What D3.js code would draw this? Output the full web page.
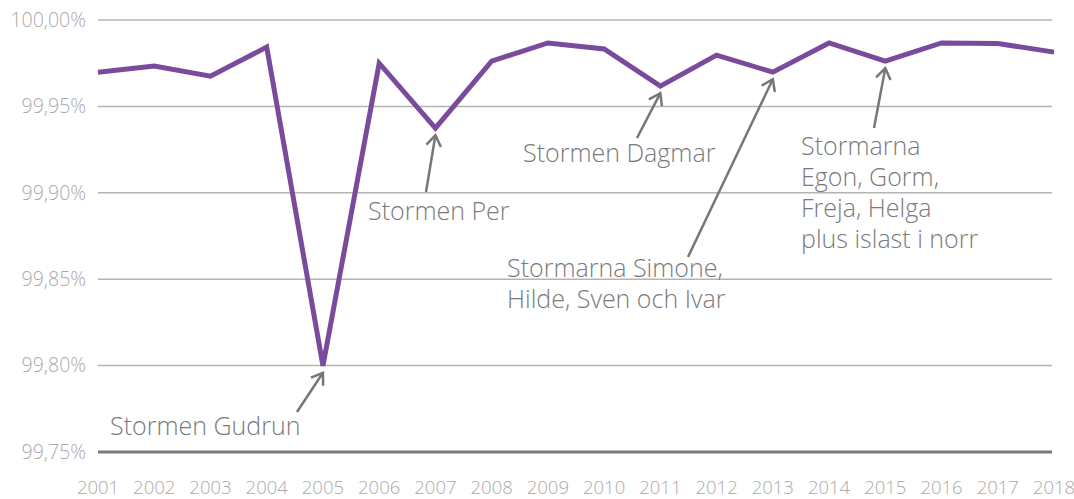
<!DOCTYPE html>
<html lang="sv">
<head>
<meta charset="UTF-8">
<title>Leveranssäkerhet</title>
<script src="https://d3js.org/d3.v7.min.js"></script>
<style>
  body { margin: 0; background: #fff; }
  svg { display: block; font-family: "Open Sans", sans-serif; font-weight: 300; }
  .grid line { stroke: #b4b4b4; stroke-width: 1.5px; }
  .tick-label { fill: #aaa; font-size: 19.5px; }
  .year-label { fill: #aaa; font-size: 18.5px; }
  .note { fill: #7a7a7a; font-size: 25px; }
  .arrow { stroke: #777; stroke-width: 2.5px; fill: none; }
</style>
</head>
<body>
<script>
  // data
  const years = [2001, 2002, 2003, 2004, 2005, 2006, 2007, 2008, 2009,
                 2010, 2011, 2012, 2013, 2014, 2015, 2016, 2017, 2018];
  const availability = [99.9698, 99.9733, 99.9675, 99.9843, 99.7999, 99.9750,
                        99.9374, 99.9762, 99.9867, 99.9832, 99.9617, 99.9797,
                        99.9698, 99.9867, 99.9762, 99.9867, 99.9864, 99.9814];
  const yTicks = [99.75, 99.80, 99.85, 99.90, 99.95, 100.00];

  const noteYears = [2005, 2007, 2011, 2013, 2015];
  const noteTexts = [
    ["Stormen Gudrun"],
    ["Stormen Per"],
    ["Stormen Dagmar"],
    ["Stormarna Simone,", "Hilde, Sven och Ivar"],
    ["Stormarna", "Egon, Gorm,", "Freja, Helga", "plus islast i norr"]
  ];

  const width = 1074, height = 499;
  const margin = { left: 98, right: 20, top: 20, bottom: 47 };

  const svg = d3.select("body").append("svg")
    .attr("width", width)
    .attr("height", height);

  const x = d3.scalePoint()
    .domain(years)
    .range([margin.left, width - margin.right]);

  const y = d3.scaleLinear()
    .domain([99.75, 100])
    .range([height - margin.bottom, margin.top]);

  const sv = d3.formatLocale({ decimal: ",", thousands: " ", grouping: [3], currency: ["", " kr"] });
  const fmt = sv.format(".2f");

  // grid
  const grid = svg.append("g").attr("class", "grid");
  grid.selectAll("line")
    .data(yTicks.slice(1))
    .join("line")
    .attr("x1", margin.left)
    .attr("x2", width - margin.right - 2)
    .attr("y1", d => y(d))
    .attr("y2", d => y(d));

  // y labels
  svg.append("g").selectAll("text")
    .data(yTicks)
    .join("text")
    .attr("class", "tick-label")
    .attr("x", margin.left - 12)
    .attr("y", d => y(d))
    .attr("dy", "0.35em")
    .attr("text-anchor", "end")
    .text(d => fmt(d) + "%");

  // x labels
  svg.append("g").selectAll("text")
    .data(years)
    .join("text")
    .attr("class", "year-label")
    .attr("x", d => x(d))
    .attr("y", height - 5)
    .attr("text-anchor", "middle")
    .text(d => d);

  // annotations: text position and arrow start, arrow ends just under the point
  const textPos = [
    { tx: 110, ty: 435, sx: 297, sy: 412 },
    { tx: 368, ty: 220, sx: 426, sy: 192 },
    { tx: 523, ty: 162, sx: 637, sy: 138 },
    { tx: 507, ty: 277, sx: 688, sy: 257 },
    { tx: 801, ty: 155, sx: 874, sy: 128 }
  ];
  const lineH = 31;

  noteYears.forEach((yr, i) => {
    const p = textPos[i];
    const t = svg.append("text").attr("class", "note");
    noteTexts[i].forEach((s, j) => {
      t.append("tspan").attr("x", p.tx).attr("y", p.ty + j * lineH).text(s);
    });

    const v = availability[years.indexOf(yr)];
    const tipX = x(yr), tipY = y(v) + 7;
    const ang = Math.atan2(p.sy - tipY, p.sx - tipX);
    const hl = 13, ha = 0.6;
    const g = svg.append("g").attr("class", "arrow");
    g.append("line")
      .attr("x1", p.sx).attr("y1", p.sy)
      .attr("x2", tipX).attr("y2", tipY);
    g.append("path")
      .attr("d", d3.line()([
        [tipX + hl * Math.cos(ang - ha), tipY + hl * Math.sin(ang - ha)],
        [tipX, tipY],
        [tipX + hl * Math.cos(ang + ha), tipY + hl * Math.sin(ang + ha)]
      ]));
  });

  // bottom axis line
  svg.append("line")
    .attr("x1", margin.left)
    .attr("x2", width - margin.right - 2)
    .attr("y1", y(99.75))
    .attr("y2", y(99.75))
    .attr("stroke", "#7a7a7a")
    .attr("stroke-width", 3);

  // series line
  svg.append("path")
    .datum(availability)
    .attr("fill", "none")
    .attr("stroke", "#7a4b9c")
    .attr("stroke-width", 5)
    .attr("stroke-linejoin", "miter")
    .attr("d", d3.line()
      .x((d, i) => x(years[i]))
      .y(d => y(d)));
</script>
</body>
</html>
